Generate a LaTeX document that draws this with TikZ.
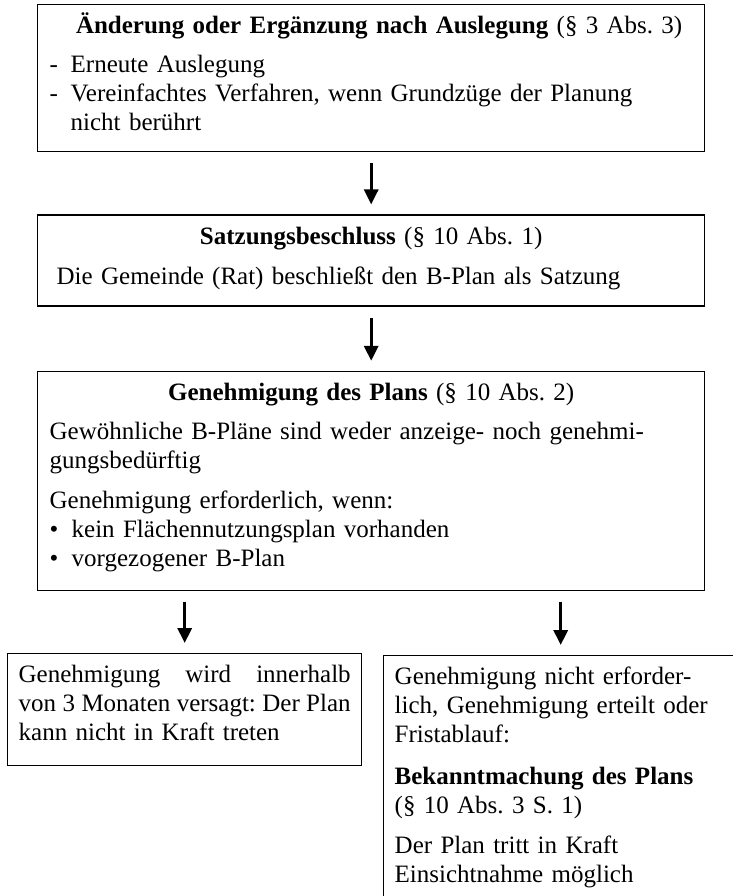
\documentclass[tikz,border=0pt]{standalone}
\usepackage{fontspec}
\setmainfont{Liberation Serif}
\usetikzlibrary{arrows.meta, positioning}
\frenchspacing

\tikzset{
	box/.style={draw, line width=0.7pt, align=left, inner xsep=6pt, inner ysep=3.5pt, font=\fontsize{12.5}{14.5}\selectfont},
	breit/.style={box, text width=321.5pt},
	halb/.style={box, text width=166pt, inner xsep=5.5pt},
	pfeil/.style={-{Triangle[length=7.5pt, width=7pt]}, line width=1.6pt, shorten <=5.5pt, shorten >=5pt}
}
\newcommand{\oben}{\rule{0pt}{11pt}}
\newcommand{\unten}[1]{\rule[-#1]{0pt}{#1}}
\newcommand{\eng}[1]{\makebox[\linewidth][s]{\spaceskip=1.8pt plus 2pt minus 1pt #1}}

\begin{document}
\begin{tikzpicture}[x=1pt, y=1pt]
		\useasboundingbox (0,0) rectangle (366.5,-448);
		
		% Kästen
		\node[breit, anchor=north west] (aenderung) at (18.5,-2) {
			\oben\makebox[\linewidth]{\hspace*{8pt}\textbf{Änderung oder Ergänzung nach Auslegung} (§ 3 Abs. 3)}\\[5pt]
			\makebox[10.5pt][l]{-}Erneute Auslegung\\
			\makebox[10.5pt][l]{-}Vereinfachtes Verfahren, wenn Grundzüge der Planung\\
			\hspace*{10.5pt}nicht berührt\unten{7pt}
		};
		\node[breit, below=31pt of aenderung] (satzung) {
			\oben\makebox[\linewidth]{\textbf{Satzungsbeschluss} (§ 10 Abs. 1)}\\[5.5pt]
			\hspace*{3.5pt}Die Gemeinde (Rat) beschließt den B-Plan als Satzung\unten{7.5pt}
		};
		\node[breit, below=32pt of satzung] (genehmigung) {
			\oben\makebox[\linewidth]{\textbf{Genehmigung des Plans} (§ 10 Abs. 2)}\\[5pt]
			Gewöhnliche B-Pläne sind weder anzeige- noch genehmi-\\
			gungsbedürftig\\[5.5pt]
			Genehmigung erforderlich, wenn:\\
			\makebox[11pt][l]{\textbullet}kein Flächennutzungsplan vorhanden\\
			\makebox[11pt][l]{\textbullet}vorgezogener B-Plan\unten{8.5pt}
		};
		\node[halb, anchor=north west] (versagt) at (3.5,-326.5) {
			\oben Genehmigung\hfill wird\hfill innerhalb\\
			\eng{von 3 Monaten versagt: Der Plan}\\
			kann nicht in Kraft treten\unten{9pt}
		};
		\node[halb, anchor=north west] (bekannt) at (191.5,-327.5) {
			\oben Genehmigung nicht erforder-\\
			lich, Genehmigung erteilt oder\\
			Fristablauf:\\[6.5pt]
			\textbf{Bekanntmachung des Plans}\\
			(§ 10 Abs. 3 S. 1)\\[5.5pt]
			Der Plan tritt in Kraft\\
			Einsichtnahme möglich\unten{12pt}
		};
		
		% Pfeile
		\draw[pfeil] (aenderung) -- (satzung);
		\draw[pfeil] (satzung) -- (genehmigung);
		\draw[pfeil] (genehmigung.south -| versagt.north) -- (versagt);
		\draw[pfeil] (genehmigung.south -| bekannt.north) -- (bekannt);
	\end{tikzpicture}
\end{document}
